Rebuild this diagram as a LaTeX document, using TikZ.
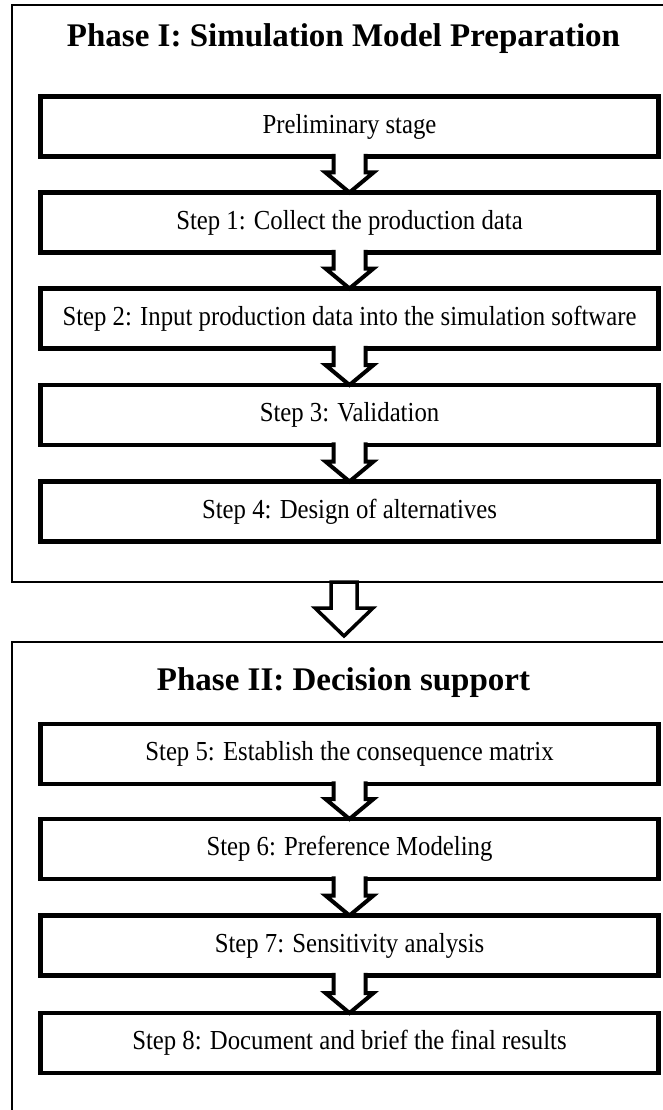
\documentclass[tikz,border=0pt]{standalone}
\usepackage{fontspec}
\setmainfont{Liberation Serif}
\newfontfamily\stepfont[FakeStretch=0.9]{Liberation Serif}
\usetikzlibrary{calc}
\newcommand\smallflow[2]{%
  \fill[white] let \p1=(#1.south), \p2=(#2.north) in
    (\x2-16pt,\y1+3pt) rectangle (\x2+16pt,\y1-3pt);
  \draw[flowarr] let \p1=(#1.south), \p2=(#2.north) in
    (\x2-16pt,\y1+2.6pt) -- (\x2-16pt,\y2+20pt) -- (\x2-24pt,\y2+20pt) -- (\x2,\y2)
    -- (\x2+24pt,\y2+20pt) -- (\x2+16pt,\y2+20pt) -- (\x2+16pt,\y1+2.6pt);
}
\begin{document}
\begin{tikzpicture}[x=1pt,y=-1pt,
  phaseframe/.style={draw=black, line width=2.5pt, inner sep=0pt, outer sep=0pt},
  stepbox/.style={draw=black, line width=4.5pt, minimum width=618pt, minimum height=60pt,
    inner sep=0pt, outer sep=0pt, font=\stepfont\fontsize{27.5}{30}\selectfont},
  phasetitle/.style={font=\bfseries\fontsize{33}{38}\selectfont, inner sep=0pt, anchor=base},
  flowarr/.style={draw=black, line width=4pt, line join=miter},
  bigarr/.style={draw=black, line width=3.5pt, fill=white, line join=miter},
]
\useasboundingbox (0,0) rectangle (663,1110);
\begin{scope}
\clip (0,0) rectangle (663,1110);
% phase frames
\node[phaseframe, minimum width=664pt, minimum height=577pt] (ph1) at (344,293.5) {};
\node[phaseframe, minimum width=664pt, minimum height=500pt] (ph2) at (344,892) {};
% titles
\node[phasetitle] (t1) at (343.5,47) {Phase I: Simulation Model Preparation};
\node[phasetitle] (t2) at (343.5,690) {Phase II: Decision support};
% step boxes
\node[stepbox] (p0) at (349.5,126.5) {Preliminary stage};
\node[stepbox] (s1) at (349.5,222.5) {Step 1: Collect the production data};
\node[stepbox] (s2) at (349.5,318.5) {Step 2: Input production data into the simulation software};
\node[stepbox] (s3) at (349.5,415) {Step 3: Validation};
\node[stepbox] (s4) at (349.5,511.5) {Step 4: Design of alternatives};
\node[stepbox] (s5) at (349.5,754) {Step 5: Establish the consequence matrix};
\node[stepbox] (s6) at (349.5,849) {Step 6: Preference Modeling};
\node[stepbox] (s7) at (349.5,945.5) {Step 7: Sensitivity analysis};
\node[stepbox] (s8) at (349.5,1043) {Step 8: Document and brief the final results};
% small arrows
\smallflow{p0}{s1}
\smallflow{s1}{s2}
\smallflow{s2}{s3}
\smallflow{s3}{s4}
\smallflow{s5}{s6}
\smallflow{s6}{s7}
\smallflow{s7}{s8}
% big arrow between phases
\draw[bigarr] let \p1=(ph1.south), \p2=(ph2.north) in
  (\x1-13pt,\y1) -- (\x1-13pt,\y2+34pt) -- (\x1-29pt,\y2+34pt) -- (\x1,\y2+6pt)
  -- (\x1+29pt,\y2+34pt) -- (\x1+13pt,\y2+34pt) -- (\x1+13pt,\y1) -- cycle;
\end{scope}
\end{tikzpicture}
\end{document}
